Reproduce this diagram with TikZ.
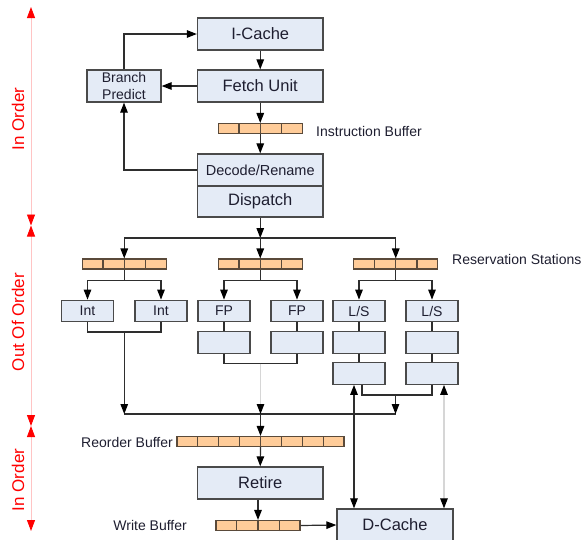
\documentclass[tikz,border=0pt]{standalone}
\usepackage{fontspec}
\setmainfont{Liberation Sans}
\usetikzlibrary{arrows.meta,calc}

\definecolor{boxfill}{HTML}{E4EBF6}
\definecolor{boxline}{HTML}{4A4A4A}
\definecolor{buffill}{HTML}{FFCC99}
\definecolor{bufline}{HTML}{5A4A3A}
\definecolor{wirec}{HTML}{2E2E2E}
\definecolor{faint}{HTML}{D6D6D6}
\definecolor{txt}{HTML}{1E1E30}
\definecolor{pinkline}{HTML}{FFC4C4}

\begin{document}
\begin{tikzpicture}[x=1pt,y=-1pt,
  unit/.style={draw=boxline, fill=boxfill, line width=1.3pt, inner sep=0pt, text=txt},
  bigbox/.style={unit, minimum width=125.5pt, minimum height=32pt, font=\fontsize{16.5}{18}\selectfont},
  smallbox/.style={unit, minimum width=52pt, minimum height=21.5pt, font=\fontsize{14}{16}\selectfont},
  buf/.style={draw=bufline, fill=buffill, line width=1.1pt, minimum height=10pt, inner sep=0pt},
  bufdiv/.style={draw=bufline, line width=1.1pt},
  wire/.style={draw=wirec, line width=1.2pt},
  tip/.style={-{Triangle[length=10pt,width=7.5pt,color=black]}},
  arr/.style={wire, tip},
  faintarr/.style={draw=faint, line width=1.2pt, tip},
  biarr/.style={wire, {Triangle[length=10pt,width=7.5pt,color=black]}-{Triangle[length=10pt,width=7.5pt,color=black]}},
  faintbi/.style={draw=faint, line width=1.2pt, {Triangle[length=10pt,width=7.5pt,color=black]}-{Triangle[length=10pt,width=7.5pt,color=black]}},
  label/.style={text=txt, inner sep=0pt, font=\fontsize{14}{16}\selectfont},
  phase/.style={text=red, inner sep=0pt, rotate=90, font=\fontsize{17}{19}\selectfont},
  phasebar/.style={draw=pinkline, line width=0.9pt,
    {Triangle[length=11pt,width=8pt,color=red]}-{Triangle[length=11pt,width=8pt,color=red]}}
]
\useasboundingbox (0,0) rectangle (584,539);

% ---- front end ----
\node[bigbox] (icache) at (260.25,34) {I-Cache};
\node[bigbox] (fetch) at (260.25,86) {Fetch Unit};
\node[unit, minimum width=74pt, minimum height=32pt, align=center,
      font=\fontsize{14}{17}\selectfont] (bp) at (124,86) {Branch\\Predict};
\node[buf, minimum width=84pt] (ib) at (260.25,128.5) {};
\node[bigbox, minimum height=32pt, font=\fontsize{14.5}{16}\selectfont] (decode) at (260.25,170) {Decode/Rename};
\node[bigbox, minimum height=31pt] (dispatch) at (260.25,201.5) {Dispatch};
\node[label, anchor=west] (iblabel) at (316,131) {Instruction Buffer};

% ---- reservation stations ----
\node[buf, minimum width=84pt] (rs1) at (124.25,264) {};
\node[buf, minimum width=84pt] (rs2) at (260.25,264) {};
\node[buf, minimum width=84pt] (rs3) at (395.75,264) {};
\node[label, anchor=west] (rslabel) at (452,259) {Reservation Stations};

% ---- execution units ----
\node[smallbox] (int1) at (87.5,311) {Int};
\node[smallbox] (int2) at (161,311) {Int};
\node[smallbox] (fp1) at (224,311) {FP};
\node[smallbox] (fp2) at (297,311) {FP};
\node[smallbox] (ls1) at (359,311) {L/S};
\node[smallbox] (ls2) at (432,311) {L/S};
\node[smallbox] (fpb1) at (224,342.5) {};
\node[smallbox] (fpb2) at (297,342.5) {};
\node[smallbox] (lsb1) at (359,342.5) {};
\node[smallbox] (lsb2) at (432,342.5) {};
\node[smallbox] (lsc1) at (359,373.5) {};
\node[smallbox] (lsc2) at (432,373.5) {};

% ---- back end ----
\node[buf, minimum width=167pt] (rob) at (260.5,441.5) {};
\node[label, anchor=east] (roblabel) at (173,442) {Reorder Buffer};
\node[bigbox] (retire) at (260.25,483) {Retire};
\node[buf, minimum width=84pt] (wb) at (258,525.5) {};
\node[label, anchor=east] (wblabel) at (187,525) {Write Buffer};
\node[unit, minimum width=116pt, minimum height=32pt, font=\fontsize{16.5}{18}\selectfont] (dcache) at (395,525) {D-Cache};

% cell dividers of the buffers
\foreach \b/\n in {ib/4, rs1/4, rs2/4, rs3/4, rob/8, wb/4} {
  \pgfmathtruncatemacro\lastcell{\n-1}
  \foreach \i in {1,...,\lastcell}
    \draw[bufdiv] ($(\b.south west)!\i/\n!(\b.south east)$) -- ($(\b.north west)!\i/\n!(\b.north east)$);
}

% ---- front-end connectors ----
\draw[arr] (bp.north) |- (icache.west);
\draw[arr] (fetch.west) -- (bp.east);
\draw[arr] (decode.west) -| (bp.south);
\draw[arr] (icache.south) -- (fetch.north);
\draw[arr] (fetch.south) -- (ib.north);
\draw[arr] (ib.south) -- (decode.north);

% ---- dispatch to reservation stations ----
\coordinate (dist) at (260.25,238);
\draw[arr] (dispatch.south) -- (dist);
\draw[wire] (rs1.north |- dist) -- (rs3.north |- dist);
\draw[arr] (rs1.north |- dist) -- (rs1.north);
\draw[arr] (dist) -- (rs2.north);
\draw[arr] (rs3.north |- dist) -- (rs3.north);

% ---- reservation stations to units ----
\draw[arr] (rs1.south) -- ++(0,11) -| (int1.north);
\draw[arr] (rs1.south) ++(0,11) -| (int2.north);
\draw[arr] (rs2.south) -- ++(0,11) -| (fp1.north);
\draw[arr] (rs2.south) ++(0,11) -| (fp2.north);
\draw[arr] (rs3.south) -- ++(0,11) -| (ls1.north);
\draw[arr] (rs3.south) ++(0,11) -| (ls2.north);

% ---- pipeline stages ----
\draw[wire] (fp1.south) -- (fpb1.north);
\draw[wire] (fp2.south) -- (fpb2.north);
\draw[wire] (ls1.south) -- (lsb1.north);
\draw[wire] (ls2.south) -- (lsb2.north);
\draw[wire] (lsb1.south) -- (lsc1.north);
\draw[wire] (lsb2.south) -- (lsc2.north);

% ---- results to reorder buffer ----
\coordinate (intj) at (124.25,332);
\coordinate (fpj) at (260.5,363.5);
\coordinate (lsj) at (395.5,395);
\coordinate (colL) at (124.25,414);
\coordinate (colM) at (260.5,414);
\coordinate (colR) at (395.5,414);
\draw[wire] (int1.south) |- (intj) -| (int2.south);
\draw[wire] (fpb1.south) |- (fpj) -| (fpb2.south);
\draw[wire] ($(lsc1.south)+(3,0)$) |- (lsj) -| (lsc2.south);
\draw[wire] (colL) -- (colR);
\draw[arr] (intj) -- (colL);
\draw[faintarr] (fpj) -- (colM);
\draw[arr] (lsj) -- (colR);
\draw[arr] (colM) -- (rob.north);
\draw[arr] (rob.south) -- (retire.north);
\draw[arr] (retire.south -| wb.north) -- (wb.north);
\draw[arr] (wb.east) -- (dcache.west);

% ---- load/store units and data cache ----
\coordinate (port1) at ($(lsc1.south)+(-5,0)$);
\coordinate (port2) at ($(lsc2.south)+(12,0)$);
\draw[biarr] (port1) -- (port1 |- dcache.north);
\draw[faintbi] (port2) -- (port2 |- dcache.north);

% ---- ordering phases ----
\coordinate (r0) at (31,7);
\coordinate (r1) at (31,225.5);
\coordinate (r2) at (31,426);
\coordinate (r3) at (31,531);
\draw[phasebar] (r0) -- (r1);
\draw[phasebar] (r1) -- (r2);
\draw[phasebar] (r2) -- (r3);
\node[phase] (ph1) at (18,119) {In Order};
\node[phase] (ph2) at (18,322) {Out Of Order};
\node[phase] (ph3) at (18,480) {In Order};
\end{tikzpicture}
\end{document}
